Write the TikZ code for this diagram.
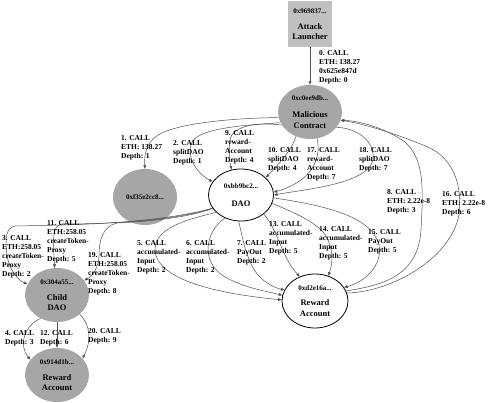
\documentclass[tikz,border=0pt]{standalone}
\usepackage{fontspec}
\setmainfont{Liberation Serif}
\usetikzlibrary{shapes.geometric,arrows.meta}
\definecolor{nodegray}{RGB}{166,166,166}
\definecolor{boxgray}{RGB}{192,192,192}
\definecolor{edgecol}{RGB}{80,80,80}
\newcommand\hx[1]{{\fontsize{7}{10.5}\selectfont #1}}
\begin{document}
\begin{tikzpicture}[x=1pt,y=-1pt,
  grayell/.style={ellipse, fill=nodegray, draw=none, inner sep=0pt, minimum width=64pt, minimum height=54pt, align=center, font=\bfseries\fontsize{8.5}{10.5}\selectfont},
  whiteell/.style={ellipse, fill=white, draw=black, line width=0.8pt, inner sep=0pt, minimum width=65pt, minimum height=52pt, align=center, font=\bfseries\fontsize{8.5}{10.5}\selectfont},
  boxnode/.style={rectangle, fill=boxgray, draw=none, inner sep=0pt, minimum width=44pt, minimum height=46pt, align=center, font=\bfseries\fontsize{8.5}{10.5}\selectfont},
  lbl/.style={anchor=north west, inner sep=0pt, align=left, font=\bfseries\fontsize{7.5}{9.2}\selectfont},
  conn/.style={draw=edgecol, line width=0.5pt, -{Triangle[length=3.6pt,width=2.8pt]}},
]
\useasboundingbox (0,0) rectangle (498,403);

% nodes
\node[boxnode] (al) at (310,24) {\hx{0x969837...}\\[5.5pt]Attack\\Launcher};
\node[grayell, minimum height=54pt] (mc) at (310,112) {\hx{0xc0ee9db...}\\[6.5pt]Malicious\\Contract};
\node[grayell, minimum height=56pt] (f35) at (145,197) {\hx{0xf35e2cc8...}};
\node[whiteell] (dao) at (241,195) {\hx{0xbb9bc2...}\\[7.5pt]DAO};
\node[grayell] (cdao) at (57,295) {\hx{0x304a55...}\\[5.5pt]Child\\DAO};
\node[grayell] (gra) at (57,375) {\hx{0x914d1b...}\\[5.5pt]Reward\\Account};
\node[whiteell, minimum width=66pt, minimum height=54pt] (wra) at (315,301) {\hx{0xd2e16a...}\\[5pt]Reward\\Account};

% edges
\draw[conn] (al.south) -- (mc.north);
\draw[conn] (mc.190) .. controls (240,118) and (180,122) .. (158,135) .. controls (146,143) and (144,155) .. (f35.north);
\draw[conn] (mc.200) .. controls (245,125) and (200,128) .. (192,142) .. controls (186,155) and (195,172) .. (dao.155);
\draw[conn] (mc.205) .. controls (260,122) and (232,125) .. (230,140) .. controls (229,152) and (229,160) .. (dao.110);
\draw[conn] (mc.240) .. controls (292,150) and (278,165) .. (dao.35);
\draw[conn] (mc.285) .. controls (322,160) and (310,182) .. (dao.5);
\draw[conn] (mc.330) .. controls (360,128) and (378,145) .. (372,163) .. controls (362,185) and (300,190) .. (dao.0);
\draw[conn] (wra.18) .. controls (385,285) and (418,275) .. (421,230) .. controls (423,190) and (425,160) .. (405,142) .. controls (385,128) and (360,121) .. (mc.345);
\draw[conn] (wra.14) .. controls (390,292) and (450,260) .. (459,215) .. controls (463,180) and (450,158) .. (430,148) .. controls (400,135) and (365,124) .. (mc.345);
\draw[conn] (dao.205) .. controls (150,225) and (60,225) .. (15,226) .. controls (5,228) and (5,240) .. (7,255) .. controls (9,270) and (18,280) .. (cdao.160);
\draw[conn] (dao.205) .. controls (170,222) and (100,224) .. (62,224) .. controls (52,225) and (53,240) .. (cdao.95);
\draw[conn] (dao.205) .. controls (190,218) and (140,222) .. (117,223) .. controls (103,226) and (99,240) .. (99,255) .. controls (99,268) and (92,276) .. (cdao.28);
\draw[conn] (cdao.235) .. controls (25,325) and (18,345) .. (gra.150);
\draw[conn] (cdao.south) -- (gra.north);
\draw[conn] (cdao.320) .. controls (90,325) and (92,340) .. (gra.33);
\draw[conn] (dao.215) .. controls (185,220) and (155,228) .. (155,250) .. controls (156,275) and (200,292) .. (wra.178);
\draw[conn] (dao.235) .. controls (205,232) and (200,262) .. (225,277) .. controls (245,288) and (265,291) .. (wra.170);
\draw[conn] (dao.265) .. controls (243,240) and (247,262) .. (258,275) .. controls (265,283) and (275,288) .. (wra.160);
\draw[conn] (dao.320) .. controls (278,230) and (282,258) .. (wra.122);
\draw[conn] (dao.345) .. controls (300,215) and (322,225) .. (328,240) .. controls (333,252) and (333,262) .. (wra.62);
\draw[conn] (dao.355) .. controls (320,205) and (372,215) .. (379,245) .. controls (383,265) and (365,282) .. (wra.25);

% labels
\node[lbl] (l0) at (319,50) {0. CALL\\ETH: 138.27\\0x625e847d\\Depth: 0};
\node[lbl] (l1) at (121,135) {1. CALL\\ETH: 138.27\\Depth: 1};
\node[lbl] (l2) at (173,140) {2. CALL\\splitDAO\\Depth: 1};
\node[lbl] (l9) at (225,130) {9. CALL\\reward-\\Account\\Depth: 4};
\node[lbl] (l10) at (268,147) {10. CALL\\splitDAO\\Depth: 4};
\node[lbl] (l17) at (307,147) {17. CALL\\reward-\\Account\\Depth: 7};
\node[lbl] (l18) at (359,147) {18. CALL\\splitDAO\\Depth: 7};
\node[lbl] (l8) at (387,189) {8. CALL\\ETH: 2.22e-8\\Depth: 3};
\node[lbl] (l16) at (442,191) {16. CALL\\ETH: 2.22e-8\\Depth: 6};
\node[lbl] (l13) at (269,221) {13. CALL\\accumulated-\\Input\\Depth: 5};
\node[lbl] (l14) at (319,226) {14. CALL\\accumulated-\\Input\\Depth: 5};
\node[lbl] (l15) at (368,229) {15. CALL\\PayOut\\Depth: 5};
\node[lbl] (l5) at (137,240) {5. CALL\\accumulated-\\Input\\Depth: 2};
\node[lbl] (l6) at (186,240) {6. CALL\\accumulated-\\Input\\Depth: 2};
\node[lbl] (l7) at (237,240) {7. CALL\\PayOut\\Depth: 2};
\node[lbl] (l3) at (2,235) {3. CALL\\ETH:258.05\\createToken-\\Proxy\\Depth: 2};
\node[lbl] (l11) at (47,220) {11. CALL\\ETH:258.05\\createToken-\\Proxy\\Depth: 5};
\node[lbl] (l19) at (88,252) {19. CALL\\ETH:258.05\\createToken-\\Proxy\\Depth: 8};
\node[lbl] (l4) at (5,330) {4. CALL\\Depth: 3};
\node[lbl] (l12) at (40,330) {12. CALL\\Depth: 6};
\node[lbl] (l20) at (88,328) {20. CALL\\Depth: 9};
\end{tikzpicture}
\end{document}
